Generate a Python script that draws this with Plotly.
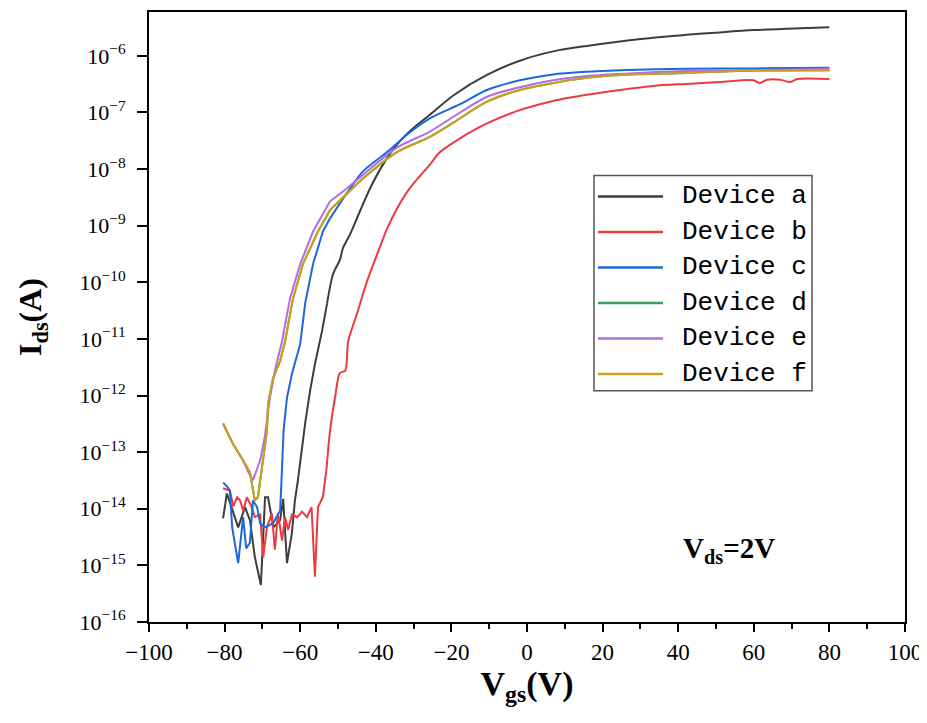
import plotly.graph_objects as go

# ---------------- data (Vgs in V, Ids in A) ----------------
names = ["Device a", "Device b", "Device c", "Device d", "Device e", "Device f"]
colors = ["#3d3d3d", "#ec3a3f", "#1c68d8", "#2fa35c", "#b06de0", "#cf9e1a"]

vgs_a = [-80.4, -79.4, -76.4, -74.6, -73.3, -72.0, -70.4, -69.3, -68.5, -67.1, -65.3, -64.5, -63.5, -62.2,
         -61.4, -60.6, -58.7, -57.4, -56.1, -54.2, -52.9, -51.3, -49.5, -48.7, -46.8, -44.2, -41.5, -38.1,
         -34.4, -30.2, -25.7, -19.5, -10.6, -1.9, 6.9, 15.8, 24.6, 33.4, 42.2, 51.0, 59.9, 68.7, 80.0]
ids_a = [6.8e-15, 1.86e-14, 4.7e-15, 1.07e-14, 6.3e-15, 1.4e-15, 4.5e-16, 1.6e-14, 1.6e-14, 4.7e-15, 6.3e-15,
         1.5e-14, 1.1e-15, 3.7e-15, 1.4e-14, 3.2e-14, 3.2e-13, 1.2e-12, 3.6e-12, 1.4e-11, 4.2e-11, 1.4e-10,
         2.5e-10, 4.0e-10, 7.1e-10, 1.8e-9, 4.6e-9, 1.2e-8, 2.7e-8, 5.2e-8, 9.1e-8, 2.0e-7, 4.6e-7, 8.2e-7,
         1.2e-6, 1.5e-6, 1.8e-6, 2.1e-6, 2.35e-6, 2.6e-6, 2.85e-6, 3.0e-6, 3.2e-6]

vgs_b = [-80.4, -79.4, -78.6, -77.7, -76.7, -75.9, -75.1, -74.1, -72.8, -72.0, -70.6, -69.8, -68.8, -67.5,
         -66.7, -65.9, -64.8, -64.0, -63.2, -62.2, -60.8, -59.5, -58.2, -57.0, -56.1, -55.3, -54.0, -53.0,
         -52.1, -50.8, -49.5, -48.1, -47.3, -45.0, -42.3, -40.2, -37.0, -34.4, -31.0, -25.7, -23.0, -17.7,
         -10.6, -1.9, 6.9, 15.8, 24.6, 33.4, 42.2, 51.0, 59.9, 61.6, 63.5, 67.0, 69.6, 71.5, 80.0]
ids_b = [2.3e-14, 2.2e-14, 2.1e-14, 1.1e-14, 1.6e-14, 1.4e-14, 9.3e-15, 1.6e-14, 1.07e-14, 7.1e-15, 7.9e-15,
         1.4e-15, 4.7e-15, 8.3e-15, 1.9e-15, 8.3e-15, 2.75e-15, 7.1e-15, 4.2e-15, 7.9e-15, 7.1e-15, 8.9e-15,
         7.1e-15, 1.07e-14, 6.3e-16, 1.07e-14, 1.6e-14, 5.4e-14, 2.4e-13, 9.1e-13, 2.5e-12, 2.75e-12, 9.1e-12,
         2.75e-11, 1.05e-10, 2.5e-10, 8.9e-10, 2.0e-9, 4.6e-9, 1.2e-8, 2.0e-8, 3.5e-8, 6.4e-8, 1.1e-7,
         1.6e-7, 2.05e-7, 2.5e-7, 2.95e-7, 3.2e-7, 3.45e-7, 3.7e-7, 3.3e-7, 3.8e-7, 3.8e-7, 3.45e-7, 3.9e-7,
         3.9e-7]

vgs_c = [-80.4, -79.4, -78.6, -78.0, -76.4, -75.4, -75.1, -74.3, -73.3, -72.5, -71.4, -70.6, -69.3, -67.2,
         -65.3, -64.8, -64.4, -63.5, -62.2, -60.0, -58.7, -56.6, -54.0, -52.1, -47.6, -43.4, -37.0, -31.7,
         -25.7, -17.7, -10.6, -1.9, 6.9, 15.8, 24.6, 42.2, 59.9, 80.0]
ids_c = [2.9e-14, 2.5e-14, 2.1e-14, 4.7e-15, 1.1e-15, 4.7e-15, 7.1e-15, 2.0e-15, 2.5e-15, 1.4e-14, 1.07e-14,
         5.5e-15, 4.7e-15, 5.5e-15, 9.3e-15, 5.4e-14, 2.4e-13, 9.1e-13, 2.4e-12, 8.1e-12, 4.2e-11, 2.1e-10,
         7.9e-10, 1.35e-9, 3.8e-9, 9.1e-9, 2.0e-8, 4.1e-8, 7.9e-8, 1.4e-7, 2.5e-7, 3.7e-7, 4.7e-7, 5.25e-7,
         5.6e-7, 5.9e-7, 6.0e-7, 6.2e-7]

vgs_d = [-80.4, -77.8, -75.1, -73.3, -72.0, -71.2, -70.1, -68.8, -68.5, -67.2, -65.3, -64.0, -61.9, -59.3,
         -55.3, -52.1, -47.6, -43.4, -34.4, -25.7, -19.5, -10.6, -1.9, 6.9, 15.8, 24.6, 42.2, 59.9, 80.0]
ids_d = [3.2e-13, 1.4e-13, 7.1e-14, 4.4e-14, 1.4e-14, 1.6e-14, 5.4e-14, 2.4e-13, 7.2e-13, 2.0e-12, 4.1e-12,
         9.1e-12, 5.2e-11, 2.1e-10, 7.9e-10, 1.9e-9, 3.7e-9, 6.8e-9, 2.0e-8, 3.7e-8, 6.6e-8, 1.55e-7, 2.5e-7,
         3.3e-7, 4.1e-7, 4.6e-7, 5.0e-7, 5.5e-7, 5.6e-7]

vgs_e = [-80.4, -77.8, -75.1, -73.7, -72.5, -70.6, -69.3, -68.0, -66.7, -64.8, -62.7, -60.0, -56.6, -52.1,
         -47.6, -43.4, -34.4, -25.7, -17.7, -10.6, -1.9, 6.9, 15.8, 24.6, 42.2, 59.9, 80.0]
ids_e = [3.2e-13, 1.4e-13, 7.1e-14, 4.4e-14, 3.2e-14, 7.1e-14, 2.0e-13, 9.1e-13, 2.75e-12, 9.1e-12, 5.2e-11,
         2.1e-10, 7.9e-10, 2.7e-9, 4.6e-9, 7.9e-9, 2.4e-8, 4.6e-8, 1.0e-7, 1.9e-7, 2.8e-7, 3.7e-7, 4.4e-7,
         4.8e-7, 5.4e-7, 5.6e-7, 5.9e-7]

vgs_f = [-80.4, -77.8, -75.1, -73.3, -72.0, -71.2, -70.1, -68.8, -68.5, -67.2, -65.3, -64.0, -61.9, -59.3,
         -55.3, -52.1, -47.6, -43.4, -34.4, -25.7, -19.5, -10.6, -1.9, 6.9, 15.8, 24.6, 42.2, 59.9, 80.0]
ids_f = [3.2e-13, 1.4e-13, 7.1e-14, 4.4e-14, 1.4e-14, 1.6e-14, 5.4e-14, 2.4e-13, 7.2e-13, 2.0e-12, 4.1e-12,
         9.1e-12, 5.2e-11, 2.1e-10, 7.9e-10, 1.9e-9, 3.7e-9, 6.8e-9, 2.0e-8, 3.7e-8, 6.6e-8, 1.55e-7, 2.5e-7,
         3.3e-7, 4.1e-7, 4.6e-7, 5.0e-7, 5.5e-7, 5.6e-7]

x_ticks = [-100, -80, -60, -40, -20, 0, 20, 40, 60, 80, 100]
y_exps = [-16, -15, -14, -13, -12, -11, -10, -9, -8, -7, -6]

xs = [vgs_a, vgs_b, vgs_c, vgs_d, vgs_e, vgs_f]
ys = [ids_a, ids_b, ids_c, ids_d, ids_e, ids_f]

# the noisy off-state part is drawn as straight segments, the smooth on-state part as a spline
SMOOTH_FROM = -53.5

fig = go.Figure()
for name, c, x, y in zip(names, colors, xs, ys):
    k = next(i for i, v in enumerate(x) if v > SMOOTH_FROM)
    fig.add_trace(go.Scatter(x=x[:k + 1], y=y[:k + 1], mode="lines", name=name, showlegend=False,
                             line=dict(color=c, width=2)))
    fig.add_trace(go.Scatter(x=x[k:], y=y[k:], mode="lines", name=name, showlegend=False,
                             line=dict(color=c, width=2, shape="spline", smoothing=0.8)))

serif = "Liberation Serif"
fig.update_layout(
    width=919, height=707,
    margin=dict(l=141, r=22, t=2, b=93),
    paper_bgcolor="white", plot_bgcolor="white",
    font=dict(family=serif, color="black"),
    xaxis=dict(range=[-100, 100], tickvals=x_ticks,
               ticktext=[str(v).replace("-", "\u2212") for v in x_ticks],
               ticks="outside", ticklen=8, tickwidth=2, tickcolor="black",
               minor=dict(dtick=10, ticks="outside", ticklen=5, tickwidth=2, tickcolor="black"),
               showline=True, linewidth=2, linecolor="black", mirror=True,
               showgrid=False, zeroline=False, ticklabeloverflow="allow",
               tickfont=dict(family=serif, size=23),
               title=dict(text="<b>V<sub>gs</sub>(V)</b>", font=dict(family=serif, size=34), standoff=6)),
    yaxis=dict(type="log", range=[-16, -5.225],
               tickvals=[10.0 ** e for e in y_exps],
               ticktext=["10<sup>\u2212%d</sup>" % (-e) for e in y_exps],
               ticks="outside", ticklen=10, tickwidth=2, tickcolor="black",
               ticklabelstandoff=7,
               showline=True, linewidth=2, linecolor="black", mirror=True,
               showgrid=False, zeroline=False,
               tickfont=dict(family=serif, size=22),
               title=dict(text="<b>I<sub>ds</sub>(A)</b>", font=dict(family=serif, size=32), standoff=28)),
)

# annotation Vds
fig.add_annotation(x=0.831, y=0.085, xref="paper", yref="paper", showarrow=False,
                   text="<b>V<sub>ds</sub>=2V</b>", font=dict(family=serif, size=29, color="black"))

# custom legend box
box_x0, box_x1, box_y0, box_y1 = 0.5886, 0.877, 0.379, 0.732
fig.add_shape(type="rect", xref="paper", yref="paper", x0=box_x0, x1=box_x1, y0=box_y0, y1=box_y1,
              line=dict(color="#555555", width=1.5), fillcolor="white", layer="above")
row_top, row_step = 0.6977, 0.0582
for i, (name, c) in enumerate(zip(names, colors)):
    yy = row_top - i * row_step
    fig.add_shape(type="line", xref="paper", yref="paper", x0=0.5939, x1=0.6799, y0=yy, y1=yy,
                  line=dict(color=c, width=2.5), layer="above")
    fig.add_annotation(x=0.7024, y=yy, xref="paper", yref="paper", xanchor="left", yanchor="middle",
                       showarrow=False, text=name,
                       font=dict(family="Liberation Mono", size=26, color="black"))

fig.write_html("out.html", config={"displayModeBar": False})
